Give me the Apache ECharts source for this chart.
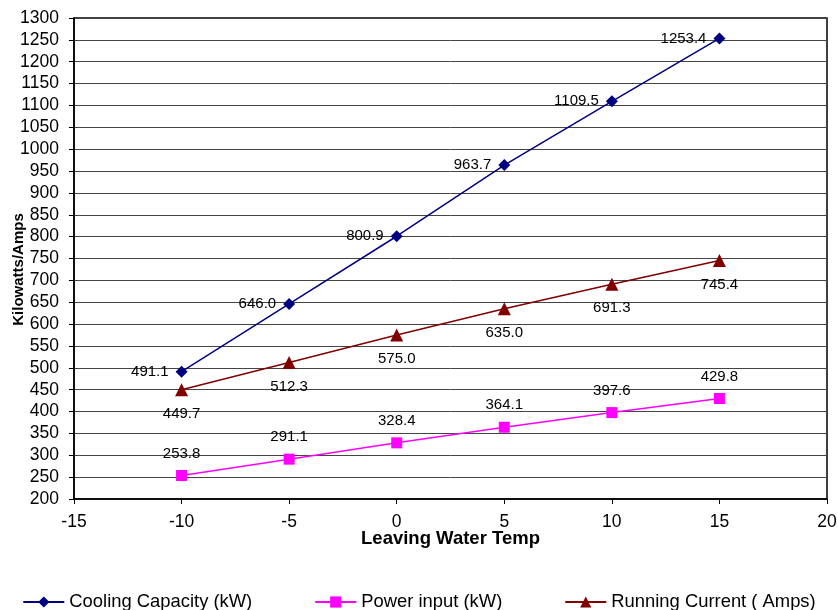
<!DOCTYPE html>
<html>
<head>
<meta charset="utf-8">
<script src="https://cdn.jsdelivr.net/npm/echarts@6/dist/echarts.min.js"></script>
<style>html,body{margin:0;padding:0;background:#fff}#c{width:838px;height:610px}</style>
</head>
<body>
<div id="c"></div>
<script>
const temps = [-10, -5, 0, 5, 10, 15];
const coolingCapacity = [491.1, 646.0, 800.9, 963.7, 1109.5, 1253.4];
const powerInput = [253.8, 291.1, 328.4, 364.1, 397.6, 429.8];
const runningCurrent = [449.7, 512.3, 575.0, 635.0, 691.3, 745.4];

const pairs = arr => temps.map((t, i) => [t, arr[i]]);
const font = 'Liberation Sans, Arial, sans-serif';
const chart = echarts.init(document.getElementById('c'));
const lbl = (pos, dist) => ({
  show: true, position: pos, distance: dist, color: '#000', fontFamily: font, fontSize: 15,
  formatter: p => p.value[1].toFixed(1)
});
chart.setOption({
  animation: false,
  grid: { left: 74, right: 11, top: 18, bottom: 111, outerBoundsMode: 'none', containLabel: false,
          show: true, borderColor: '#000', borderWidth: 1.5 },
  xAxis: {
    type: 'value', min: -15, max: 20, interval: 5,
    name: 'Leaving Water Temp', nameLocation: 'middle', nameGap: 30, nameMoveOverlap: false,
    nameTextStyle: { fontFamily: font, fontSize: 18.5, fontWeight: 'bold', color: '#000' },
    axisLine: { show: true, onZero: false, lineStyle: { color: '#000', width: 1.5 } },
    axisTick: { show: true, length: 5, lineStyle: { color: '#000' } },
    axisLabel: { fontFamily: font, fontSize: 17.5, color: '#000', margin: 14, formatter: v => String(v) },
    splitLine: { show: false }
  },
  yAxis: {
    type: 'value', min: 200, max: 1300, interval: 50,
    name: 'Kilowatts/Amps', nameLocation: 'middle', nameGap: 48, nameMoveOverlap: false,
    nameTextStyle: { fontFamily: font, fontSize: 15, fontWeight: 'bold', color: '#000', padding: [0, 22, 0, 0] },
    axisLine: { show: true, onZero: false, lineStyle: { color: '#000', width: 1.5 } },
    axisTick: { show: true, length: 5, lineStyle: { color: '#000' } },
    axisLabel: { fontFamily: font, fontSize: 17.5, color: '#000', margin: 15, formatter: v => String(v) },
    splitLine: { show: true, lineStyle: { color: '#444', width: 1 } }
  },
  legend: {
    bottom: -6, left: 'center', itemGap: 62, itemWidth: 41, itemHeight: 14,
    textStyle: { fontFamily: font, fontSize: 18.4, color: '#000' },
    data: ['Cooling Capacity (kW)', 'Power input (kW)', 'Running Current ( Amps)']
  },
  series: [
    { name: 'Cooling Capacity (kW)', type: 'line', data: pairs(coolingCapacity),
      symbol: 'diamond', symbolSize: 12, color: '#000080',
      lineStyle: { width: 1.5 }, label: lbl('left', 7) },
    { name: 'Power input (kW)', type: 'line', data: pairs(powerInput),
      symbol: 'rect', symbolSize: 11, color: '#ff00ff',
      lineStyle: { width: 1.5 }, label: lbl('top', 9) },
    { name: 'Running Current ( Amps)', type: 'line', data: pairs(runningCurrent),
      symbol: 'triangle', symbolSize: 13, color: '#800000',
      lineStyle: { width: 1.5 }, label: lbl('bottom', 10) }
  ]
});
</script>
</body>
</html>
